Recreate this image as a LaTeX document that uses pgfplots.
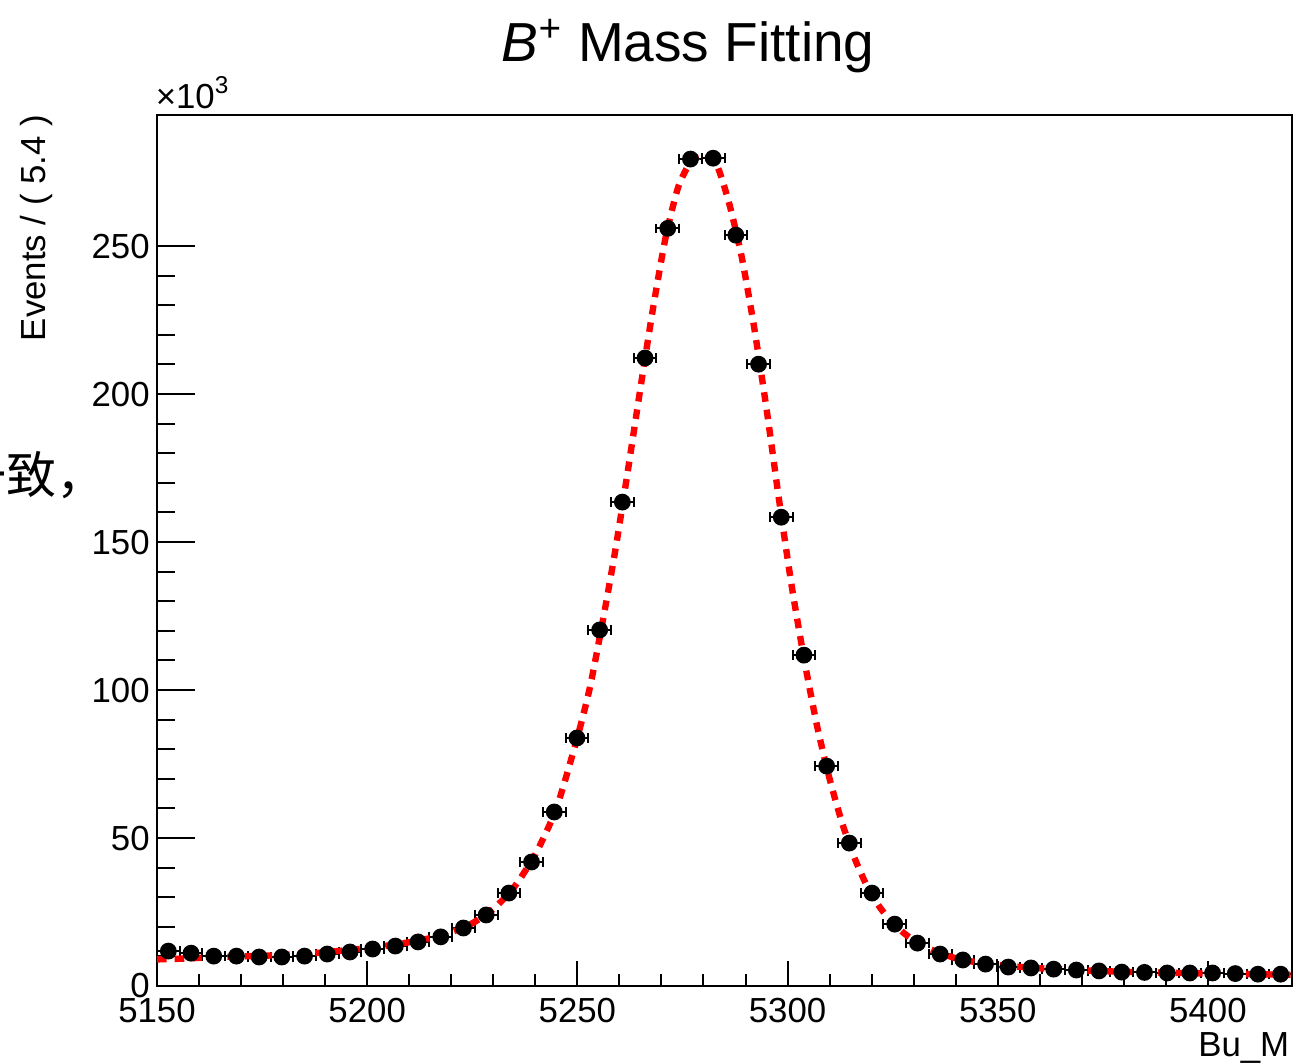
\documentclass[border=0pt]{standalone}
\usepackage{fontspec}
\setmainfont{Liberation Sans}
\newfontfamily\cjk{Noto Sans CJK SC}
\usepackage{pgfplots}
\pgfplotsset{compat=1.18}
\usetikzlibrary{calc}

% binned data, bin width 5.4, values in units of 10^3
\pgfplotstableread{
x y
5152.7 11.8
5158.1 11.1
5163.5 10.1
5168.9 10.1
5174.3 9.8
5179.7 9.8
5185.1 10.1
5190.5 10.8
5195.9 11.5
5201.3 12.5
5206.7 13.5
5212.1 14.9
5217.5 16.6
5222.9 19.6
5228.3 24.0
5233.7 31.4
5239.1 41.9
5244.5 58.8
5249.9 83.8
5255.3 120.3
5260.7 163.5
5266.1 212.2
5271.5 256.0
5276.9 279.4
5282.3 279.7
5287.7 253.7
5293.1 210.1
5298.5 158.4
5303.9 111.8
5309.3 74.3
5314.7 48.3
5320.1 31.4
5325.5 20.9
5330.9 14.5
5336.3 10.8
5341.7 8.8
5347.1 7.4
5352.5 6.4
5357.9 6.1
5363.3 5.7
5368.7 5.4
5374.1 5.1
5379.5 4.7
5384.9 4.6
5390.3 4.4
5395.7 4.4
5401.1 4.4
5406.5 4.2
5411.9 4.0
5417.3 4.0
}\datatable

% fitted curve
\pgfplotstableread{
x y
5150 9.0
5155 9.2
5160 9.5
5165 9.8
5170 10.0
5175 10.2
5180 10.5
5185 10.9
5190 11.4
5195 12.1
5200 12.8
5205 13.7
5210 14.8
5215 16.2
5220 18.2
5225 21.2
5230 26.0
5235 33.5
5240 44.5
5245 60
5250 84
5253 101
5256 123
5259 147
5262 174
5265 202
5268 229
5271 253
5274 270
5277 278.5
5280 280.5
5283 278
5286 265
5289 247
5292 223
5295 195
5298 164
5301 135
5304 110
5307 88
5310 70
5313 55
5316 43
5319 33.5
5322 26.5
5325 21.3
5328 17.5
5331 14.6
5335 11.8
5340 9.4
5345 8.0
5350 7.1
5355 6.5
5360 6.0
5370 5.3
5380 4.8
5390 4.5
5400 4.2
5410 4.0
5420 3.8
}\fittable

\begin{document}
\begin{tikzpicture}
\pgfplotsset{
  rootstyle/.style={
    scale only axis, width=283.75pt, height=217.75pt,
    xmin=5150, xmax=5420, ymin=0, ymax=294.3,
    tick align=inside, xtick pos=bottom, ytick pos=left,
    every tick/.style={black, line width=0.5pt},
    /pgf/number format/assume math mode=true,
    /pgf/number format/1000 sep={},
    ticklabel style={font=\fontsize{8.7}{10}\selectfont},
  }
}
% x ticks (shorter)
\begin{axis}[rootstyle,
  axis line style={draw=none},
  xtick={5150,5200,...,5400}, minor x tick num=4,
  ytick=\empty,
  major tick length=6.25pt, minor tick length=3pt,
  xticklabel style={yshift=0.6pt},
]
\end{axis}
% main axis with y ticks and data
\begin{axis}[rootstyle, name=ax,
  axis line style={line width=0.5pt},
  xtick=\empty,
  ytick={0,50,...,250}, minor y tick num=4,
  major tick length=9.4pt, minor tick length=4.6pt,
  yticklabel style={xshift=1.7pt},
]
\addplot[only marks, mark=*, mark size=1.9pt, black,
  error bars/.cd, x dir=both, x fixed=2.7, error mark=|,
  error bar style={line width=0.5pt, black},
  error mark options={mark size=1.2pt, line width=0.5pt, black}]
  table {\datatable};
\addplot[red, line width=1.6pt, dash pattern=on 2.4pt off 2pt, smooth, tension=0.4] table {\fittable};
\end{axis}

\node[anchor=base, inner sep=0, font=\fontsize{13.75}{15}\selectfont]
  at ($(ax.south west)+(132.75pt,231pt)$) {\textit{B}\textsuperscript{\textit{+}} Mass Fitting};
\node[anchor=base west, inner sep=0, font=\fontsize{8.7}{10}\selectfont]
  at ($(ax.south west)+(-0.5pt,219.25pt)$) {×10\textsuperscript{3}};
\node[anchor=east, rotate=90, inner sep=0, font=\fontsize{8.7}{10}\selectfont]
  at ($(ax.south west)+(-30.25pt,218pt)$) {Events / ( 5.4 )};
\node[anchor=base east, inner sep=0, font=\fontsize{8.7}{10}\selectfont]
  at ($(ax.south east)+(-0.5pt,-17.5pt)$) {Bu\_M};
\node[anchor=base west, inner sep=0, font=\cjk\fontsize{12.5}{14}\selectfont]
  at ($(ax.south west)+(-50.25pt,123.25pt)$) {一致，};

\pgfresetboundingbox
\path ($(ax.south west)+(-39.25pt,-19pt)$) rectangle ($(ax.north east)+(0.25pt,28.75pt)$);
\end{tikzpicture}
\end{document}
